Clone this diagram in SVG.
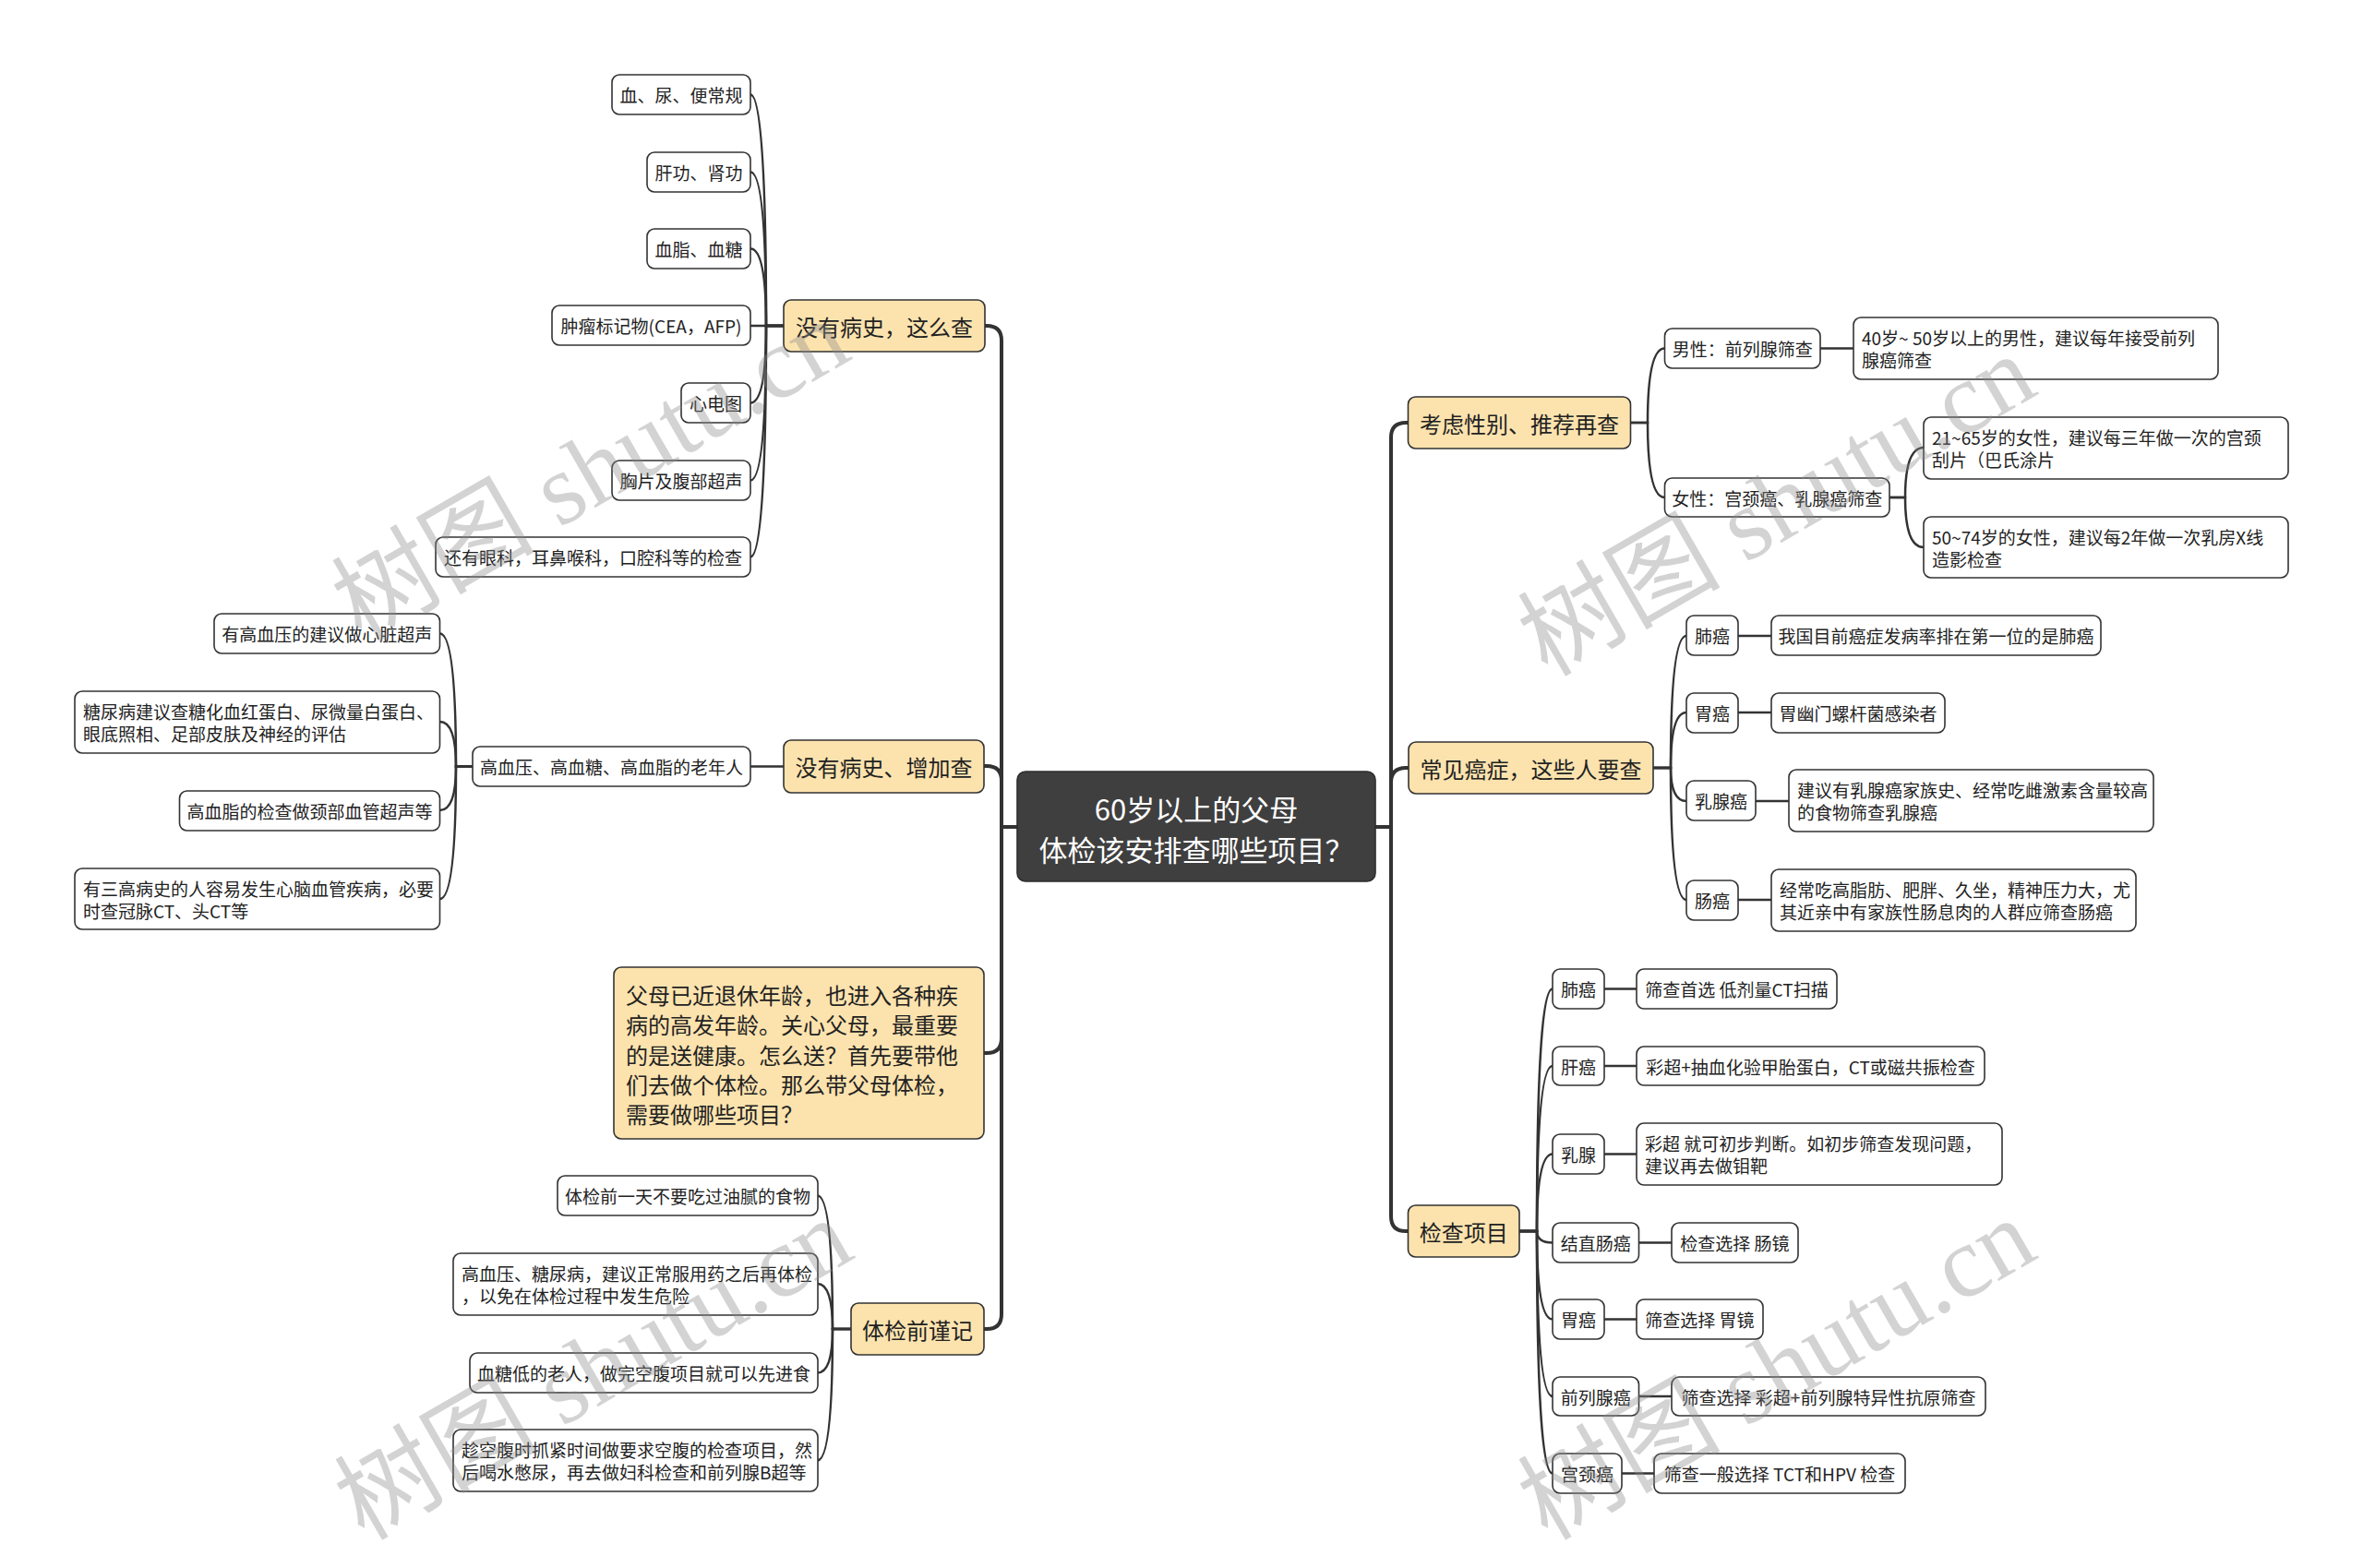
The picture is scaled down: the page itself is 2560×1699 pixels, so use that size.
<svg xmlns="http://www.w3.org/2000/svg" width="2560" height="1699" viewBox="0 0 2560 1699">
<style>
.bg{fill:#ffffff}
.n rect{fill:#ffffff;stroke:#333333;stroke-width:1.6}
.m rect{fill:#FCE3AE;stroke:#333333;stroke-width:1.6}
.root rect{fill:#3f3f3f;stroke:#2e2e2e;stroke-width:1.6}
text{font-family:"Noto Sans CJK SC","Noto Sans",sans-serif;fill:#222222;dominant-baseline:central}
.s{font-size:19px}
.l{font-size:24px}
.c{text-anchor:middle}
.root text{fill:#ffffff;font-size:31px;text-anchor:middle}
.links path{fill:none;stroke:#333333;stroke-width:2.5;stroke-linecap:round}
.links path.trunk{stroke-width:4}
.wm{font-family:"Liberation Serif","Noto Sans CJK SC",serif;font-size:110px;fill:#8c8c8c;fill-opacity:0.38;text-anchor:middle;dominant-baseline:central}
</style>
<rect class="bg" x="0" y="0" width="2560" height="1699"/>

<g id="connectors" class="links">
  <path class="trunk" d="M1102,896 H1085"/>
  <path class="trunk" d="M1085,896 V369 Q1085,353 1069,353 H1067"/>
  <path class="trunk" d="M1085,896 V846 Q1085,830 1069,830 H1066"/>
  <path class="trunk" d="M1085,896 V1125 Q1085,1141 1069,1141 H1066"/>
  <path class="trunk" d="M1085,896 V1424 Q1085,1440 1069,1440 H1066"/>
  <path class="trunk" d="M1490,896 H1507"/>
  <path class="trunk" d="M1507,896 V474 Q1507,458 1523,458 H1526"/>
  <path class="trunk" d="M1507,896 V848 Q1507,832 1523,832 H1526"/>
  <path class="trunk" d="M1507,896 V1318 Q1507,1334 1523,1334 H1526"/>
  <path d="M849,353 H830 Q830,102.5 813,102.5"/>
  <path d="M849,353 H830 Q830,186.5 813,186.5"/>
  <path d="M849,353 H830 Q830,269.5 813,269.5"/>
  <path d="M849,353 H813"/>
  <path d="M849,353 H830 Q830,436.5 813,436.5"/>
  <path d="M849,353 H830 Q830,520.5 813,520.5"/>
  <path d="M849,353 H830 Q830,603.5 813,603.5"/>
  <path d="M849,830.5 H813"/>
  <path d="M512,830.5 H494 Q494,686.5 476.5,686.5"/>
  <path d="M512,830.5 H494 Q494,782 476.5,782"/>
  <path d="M512,830.5 H494 Q494,878 476.5,878"/>
  <path d="M512,830.5 H494 Q494,974 476.5,974"/>
  <path d="M922,1440 H902 Q902,1295.5 885.5,1295.5"/>
  <path d="M922,1440 H902 Q902,1391 885.5,1391"/>
  <path d="M922,1440 H902 Q902,1487.5 885.5,1487.5"/>
  <path d="M922,1440 H902 Q902,1582.5 885.5,1582.5"/>
  <path d="M1766.5,458 H1785 Q1785,377.5 1803.5,377.5"/>
  <path d="M1766.5,458 H1785 Q1785,539 1803.5,539"/>
  <path d="M1972,377.5 H2008"/>
  <path d="M2047,539 H2064 Q2064,485 2084,485"/>
  <path d="M2047,539 H2064 Q2064,593 2084,593"/>
  <path d="M1791,832 H1810 Q1810,689 1827,689"/>
  <path d="M1791,832 H1810 Q1810,772 1827,772"/>
  <path d="M1791,832 H1810 Q1810,868 1827,868"/>
  <path d="M1791,832 H1810 Q1810,975 1827,975"/>
  <path d="M1883,689 H1919"/>
  <path d="M1883,772 H1919"/>
  <path d="M1902,868 H1938"/>
  <path d="M1883,975 H1919"/>
  <path d="M1646,1334 H1665 Q1665,1071.5 1682,1071.5"/>
  <path d="M1646,1334 H1665 Q1665,1155 1682,1155"/>
  <path d="M1646,1334 H1665 Q1665,1250.5 1682,1250.5"/>
  <path d="M1646,1334 H1665 Q1665,1346.5 1682,1346.5"/>
  <path d="M1646,1334 H1665 Q1665,1429.5 1682,1429.5"/>
  <path d="M1646,1334 H1665 Q1665,1513 1682,1513"/>
  <path d="M1646,1334 H1665 Q1665,1596.5 1682,1596.5"/>
  <path d="M1738,1071.5 H1773"/>
  <path d="M1738,1155 H1773"/>
  <path d="M1738,1250.5 H1773"/>
  <path d="M1775.5,1346.5 H1811"/>
  <path d="M1738,1429.5 H1773"/>
  <path d="M1775.5,1513 H1811"/>
  <path d="M1757,1596.5 H1792"/>
</g>

<g id="root" class="root">
  <rect x="1102" y="836" width="388" height="119" rx="9"/>
  <text x="1296" y="875">60岁以上的父母</text>
  <text x="1296" y="919">体检该安排查哪些项目？</text>
</g>

<g id="b1" class="m"><rect x="849" y="325" width="218" height="56" rx="8"/><text class="l c" x="958" y="353">没有病史，这么查</text></g>
<g id="b2" class="m"><rect x="849" y="802" width="217" height="57" rx="8"/><text class="l c" x="957.5" y="830.5">没有病史、增加查</text></g>
<g id="b3" class="m"><rect x="665" y="1048" width="401" height="186" rx="8"/>
  <text class="l" x="678" y="1077">父母已近退休年龄，也进入各种疾</text>
  <text class="l" x="678" y="1109">病的高发年龄。关心父母，最重要</text>
  <text class="l" x="678" y="1142">的是送健康。怎么送？首先要带他</text>
  <text class="l" x="678" y="1174">们去做个体检。那么带父母体检，</text>
  <text class="l" x="678" y="1206">需要做哪些项目？</text>
</g>
<g id="b4" class="m"><rect x="922" y="1412" width="144" height="56" rx="8"/><text class="l c" x="994" y="1440">体检前谨记</text></g>

<g id="b5" class="m"><rect x="1525.5" y="430" width="241" height="56" rx="8"/><text class="l c" x="1646" y="458">考虑性别、推荐再查</text></g>
<g id="b6" class="m"><rect x="1526" y="804" width="265" height="56" rx="8"/><text class="l c" x="1658.5" y="832">常见癌症，这些人要查</text></g>
<g id="b7" class="m"><rect x="1525.5" y="1306" width="120.5" height="56" rx="8"/><text class="l c" x="1585.75" y="1334">检查项目</text></g>

<g id="a1" class="n"><rect x="663" y="81" width="150" height="43" rx="8"/><text class="s c" x="738" y="102.5">血、尿、便常规</text></g>
<g id="a2" class="n"><rect x="701" y="165" width="112" height="43" rx="8"/><text class="s c" x="757" y="186.5">肝功、肾功</text></g>
<g id="a3" class="n"><rect x="701" y="248" width="112" height="43" rx="8"/><text class="s c" x="757" y="269.5">血脂、血糖</text></g>
<g id="a4" class="n"><rect x="598" y="331" width="215" height="43" rx="8"/><text class="s c" x="705.5" y="352.5">肿瘤标记物(CEA，AFP)</text></g>
<g id="a5" class="n"><rect x="738" y="415" width="75" height="43" rx="8"/><text class="s c" x="775.5" y="436.5">心电图</text></g>
<g id="a6" class="n"><rect x="663" y="499" width="150" height="43" rx="8"/><text class="s c" x="738" y="520.5">胸片及腹部超声</text></g>
<g id="a7" class="n"><rect x="472" y="582" width="341" height="43" rx="8"/><text class="s c" x="642.5" y="603.5">还有眼科，耳鼻喉科，口腔科等的检查</text></g>

<g id="c0" class="n"><rect x="512" y="809" width="301" height="43" rx="8"/><text class="s c" x="662.5" y="830.5">高血压、高血糖、高血脂的老年人</text></g>
<g id="c1" class="n"><rect x="232" y="665" width="244.5" height="43" rx="8"/><text class="s c" x="354.25" y="686.5">有高血压的建议做心脏超声</text></g>
<g id="c2" class="n"><rect x="81" y="749" width="395.5" height="67" rx="8"/>
  <text class="s" x="90" y="770">糖尿病建议查糖化血红蛋白、尿微量白蛋白、</text>
  <text class="s" x="90" y="794">眼底照相、足部皮肤及神经的评估</text></g>
<g id="c3" class="n"><rect x="194.5" y="857" width="282" height="43" rx="8"/><text class="s c" x="335.5" y="878.5">高血脂的检查做颈部血管超声等</text></g>
<g id="c4" class="n"><rect x="81" y="941" width="395.5" height="66" rx="8"/>
  <text class="s" x="90" y="962">有三高病史的人容易发生心脑血管疾病，必要</text>
  <text class="s" x="90" y="986">时查冠脉CT、头CT等</text></g>

<g id="d1" class="n"><rect x="604" y="1274" width="282" height="43" rx="8"/><text class="s c" x="745" y="1295.5">体检前一天不要吃过油腻的食物</text></g>
<g id="d2" class="n"><rect x="491" y="1358" width="395" height="67" rx="8"/>
  <text class="s" x="500" y="1379">高血压、糖尿病，建议正常服用药之后再体检</text>
  <text class="s" x="500" y="1403">，以免在体检过程中发生危险</text></g>
<g id="d3" class="n"><rect x="509" y="1466" width="377" height="43" rx="8"/><text class="s c" x="697.5" y="1487.5">血糖低的老人，做完空腹项目就可以先进食</text></g>
<g id="d4" class="n"><rect x="491" y="1549" width="395" height="67" rx="8"/>
  <text class="s" x="500" y="1570">趁空腹时抓紧时间做要求空腹的检查项目，然</text>
  <text class="s" x="500" y="1594">后喝水憋尿，再去做妇科检查和前列腺B超等</text></g>

<g id="e1" class="n"><rect x="1803.5" y="356" width="168.5" height="43" rx="8"/><text class="s c" x="1887.75" y="377.5">男性：前列腺筛查</text></g>
<g id="e2" class="n"><rect x="2008" y="344" width="395" height="67" rx="8"/>
  <text class="s" x="2017" y="365">40岁~ 50岁以上的男性，建议每年接受前列</text>
  <text class="s" x="2017" y="389">腺癌筛查</text></g>
<g id="e3" class="n"><rect x="1803.5" y="518" width="243.5" height="42" rx="8"/><text class="s c" x="1925.25" y="539">女性：宫颈癌、乳腺癌筛查</text></g>
<g id="e4" class="n"><rect x="2084" y="452" width="395" height="67" rx="8"/>
  <text class="s" x="2093" y="473">21~65岁的女性，建议每三年做一次的宫颈</text>
  <text class="s" x="2093" y="497">刮片（巴氏涂片</text></g>
<g id="e5" class="n"><rect x="2084" y="560" width="395" height="66" rx="8"/>
  <text class="s" x="2093" y="581">50~74岁的女性，建议每2年做一次乳房X线</text>
  <text class="s" x="2093" y="605">造影检查</text></g>

<g id="f1" class="n"><rect x="1827" y="667" width="56" height="43" rx="8"/><text class="s c" x="1855" y="688.5">肺癌</text></g>
<g id="f1d" class="n"><rect x="1919" y="667" width="357" height="43" rx="8"/><text class="s c" x="2097.5" y="688.5">我国目前癌症发病率排在第一位的是肺癌</text></g>
<g id="f2" class="n"><rect x="1827" y="751" width="56" height="43" rx="8"/><text class="s c" x="1855" y="772.5">胃癌</text></g>
<g id="f2d" class="n"><rect x="1919" y="751" width="188" height="43" rx="8"/><text class="s c" x="2013" y="772.5">胃幽门螺杆菌感染者</text></g>
<g id="f3" class="n"><rect x="1827" y="846" width="75" height="43" rx="8"/><text class="s c" x="1864.5" y="867.5">乳腺癌</text></g>
<g id="f3d" class="n"><rect x="1938" y="834" width="395" height="67" rx="8"/>
  <text class="s" x="1947" y="855">建议有乳腺癌家族史、经常吃雌激素含量较高</text>
  <text class="s" x="1947" y="879">的食物筛查乳腺癌</text></g>
<g id="f4" class="n"><rect x="1827" y="954" width="56" height="43" rx="8"/><text class="s c" x="1855" y="975.5">肠癌</text></g>
<g id="f4d" class="n"><rect x="1919" y="942" width="395" height="67" rx="8"/>
  <text class="s" x="1928" y="963">经常吃高脂肪、肥胖、久坐，精神压力大，尤</text>
  <text class="s" x="1928" y="987">其近亲中有家族性肠息肉的人群应筛查肠癌</text></g>

<g id="g1" class="n"><rect x="1682" y="1050" width="56" height="43" rx="8"/><text class="s c" x="1710" y="1071.5">肺癌</text></g>
<g id="g1d" class="n"><rect x="1773" y="1050" width="217" height="43" rx="8"/><text class="s c" x="1881.5" y="1071.5">筛查首选 低剂量CT扫描</text></g>
<g id="g2" class="n"><rect x="1682" y="1134" width="56" height="42" rx="8"/><text class="s c" x="1710" y="1155">肝癌</text></g>
<g id="g2d" class="n"><rect x="1773" y="1134" width="377" height="42" rx="8"/><text class="s c" x="1961.5" y="1155">彩超+抽血化验甲胎蛋白，CT或磁共振检查</text></g>
<g id="g3" class="n"><rect x="1682" y="1229" width="56" height="43" rx="8"/><text class="s c" x="1710" y="1250.5">乳腺</text></g>
<g id="g3d" class="n"><rect x="1773" y="1217" width="396" height="67" rx="8"/>
  <text class="s" x="1782" y="1238">彩超 就可初步判断。如初步筛查发现问题，</text>
  <text class="s" x="1782" y="1262">建议再去做钼靶</text></g>
<g id="g4" class="n"><rect x="1682" y="1325" width="93.5" height="43" rx="8"/><text class="s c" x="1728.75" y="1346.5">结直肠癌</text></g>
<g id="g4d" class="n"><rect x="1811" y="1325" width="137" height="43" rx="8"/><text class="s c" x="1879.5" y="1346.5">检查选择 肠镜</text></g>
<g id="g5" class="n"><rect x="1682" y="1408" width="56" height="43" rx="8"/><text class="s c" x="1710" y="1429.5">胃癌</text></g>
<g id="g5d" class="n"><rect x="1773" y="1408" width="137" height="43" rx="8"/><text class="s c" x="1841.5" y="1429.5">筛查选择 胃镜</text></g>
<g id="g6" class="n"><rect x="1682" y="1492" width="93.5" height="42" rx="8"/><text class="s c" x="1728.75" y="1513">前列腺癌</text></g>
<g id="g6d" class="n"><rect x="1811" y="1492" width="340" height="42" rx="8"/><text class="s c" x="1981" y="1513">筛查选择 彩超+前列腺特异性抗原筛查</text></g>
<g id="g7" class="n"><rect x="1682" y="1575" width="75" height="43" rx="8"/><text class="s c" x="1719.5" y="1596.5">宫颈癌</text></g>
<g id="g7d" class="n"><rect x="1792" y="1575" width="272" height="43" rx="8"/><text class="s c" x="1928" y="1596.5">筛查一般选择 TCT和HPV 检查</text></g>

<g id="watermarks">
  <text class="wm" x="640" y="510" transform="rotate(-30 640 510)">树图 shutu.cn</text>
  <text class="wm" x="1925" y="548" transform="rotate(-30 1925 548)">树图 shutu.cn</text>
  <text class="wm" x="643" y="1484" transform="rotate(-30 643 1484)">树图 shutu.cn</text>
  <text class="wm" x="1925" y="1484" transform="rotate(-30 1925 1484)">树图 shutu.cn</text>
</g>
</svg>
